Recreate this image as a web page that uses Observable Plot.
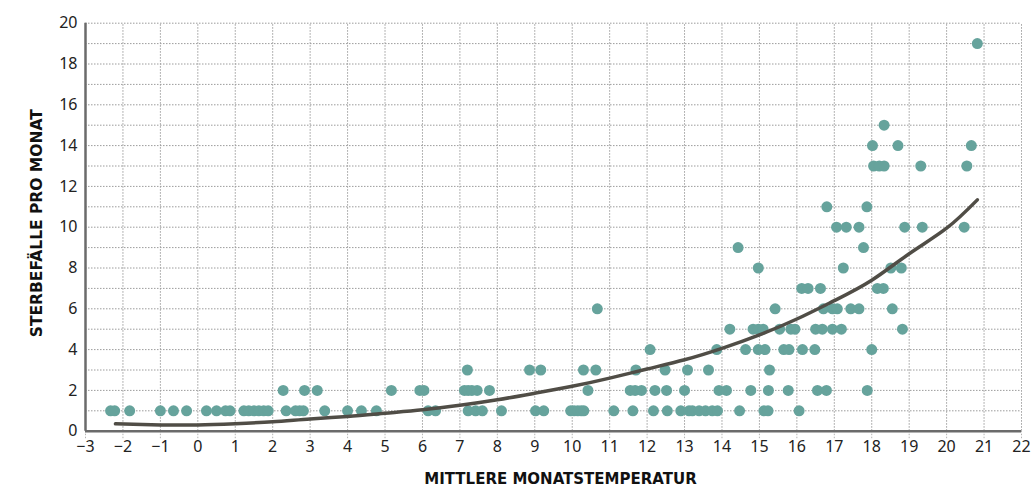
<!DOCTYPE html>
<html>
<head>
<meta charset="utf-8">
<script src="https://cdn.jsdelivr.net/npm/d3@7"></script>
<script src="https://cdn.jsdelivr.net/npm/@observablehq/plot@0.6"></script>
<style>
  html, body { margin: 0; padding: 0; background: #fff; }
  #chart svg { display: block; }
</style>
</head>
<body>
<div id="chart"></div>
<script>
// Monthly deaths vs. mean monthly temperature, grouped by number of deaths
const tempsAt1 = [-2.33, -2.22, -1.82, -1.0, -0.65, -0.30, 0.23, 0.50, 0.74, 0.86, 1.23, 1.36, 1.50, 1.63, 1.76, 1.88,
  2.36, 2.61, 2.72, 2.82, 3.39, 4.0, 4.37, 4.77, 6.15, 6.35, 7.22, 7.42, 7.60, 8.11, 9.02, 9.24, 9.96, 10.05, 10.15,
  10.24, 10.31, 11.11, 11.62, 12.17, 12.54, 12.90, 13.12, 13.21, 13.39, 13.56, 13.74, 13.88, 14.47, 15.12, 15.23, 16.06];
const tempsAt2 = [2.28, 2.85, 3.19, 5.17, 5.93, 6.04, 7.12, 7.22, 7.32, 7.46, 7.79, 10.42, 11.55, 11.68, 11.85, 12.21,
  12.52, 13.0, 13.92, 14.12, 14.77, 15.24, 15.77, 16.55, 16.79, 17.88];
const tempsAt3 = [7.20, 8.86, 9.16, 10.30, 10.63, 11.70, 12.48, 13.08, 13.64, 15.27];
const tempsAt4 = [12.08, 13.86, 14.63, 14.97, 15.15, 15.65, 15.79, 16.15, 16.48, 18.0];
const tempsAt5 = [14.21, 14.83, 14.97, 15.10, 15.54, 15.84, 15.95, 16.50, 16.68, 16.95, 17.19, 18.82];
const tempsAt6 = [10.67, 15.42, 16.71, 16.95, 17.08, 17.44, 17.66, 18.55];
const tempsAt7 = [16.13, 16.30, 16.63, 18.15, 18.31];
const tempsAt8 = [14.97, 17.24, 18.51, 18.79];
const tempsAt9 = [14.43, 17.78];
const tempsAt10 = [17.06, 17.32, 17.66, 18.88, 19.35, 20.47];
const tempsAt11 = [16.80, 17.87];
const tempsAt13 = [18.05, 18.20, 18.33, 19.31, 20.54];
const tempsAt14 = [18.02, 18.70, 20.66];
const tempsAt15 = [18.33];
const tempsAt19 = [20.82];

// Fitted curve
const fitTemp   = [-2.2, -1, 0, 1, 2, 3, 4, 5, 6, 7, 8, 9, 10, 11, 12, 13, 14, 15, 16, 17, 18, 19, 20, 20.82];
const fitDeaths = [0.36, 0.31, 0.31, 0.37, 0.46, 0.6, 0.72, 0.88, 1.05, 1.27, 1.54, 1.86, 2.2, 2.6, 3.05, 3.5, 4.06, 4.72, 5.5, 6.4, 7.4, 8.7, 9.95, 11.34];

const xTicks = d3.range(-3, 23);
const yGrid = d3.range(0, 21);
const yTicks = d3.range(0, 21, 2);
const xTitle = "MITTLERE MONATSTEMPERATUR";
const yTitle = "STERBEFÄLLE PRO MONAT";

const groups = [[1, tempsAt1], [2, tempsAt2], [3, tempsAt3], [4, tempsAt4], [5, tempsAt5], [6, tempsAt6], [7, tempsAt7],
  [8, tempsAt8], [9, tempsAt9], [10, tempsAt10], [11, tempsAt11], [13, tempsAt13], [14, tempsAt14], [15, tempsAt15], [19, tempsAt19]];
const points = groups.flatMap(([n, temps]) => temps.map(t => ({temp: t, deaths: n})));
const fit = fitTemp.map((t, i) => ({temp: t, deaths: fitDeaths[i]}));

const chart = Plot.plot({
  width: 1034,
  height: 490,
  marginTop: 22.7,
  marginBottom: 59.3,
  marginLeft: 85,
  marginRight: 13,
  style: {fontFamily: "'Noto Sans', sans-serif", background: "#fff"},
  x: {domain: [-3, 22]},
  y: {domain: [0, 20]},
  marks: [
    Plot.ruleX(xTicks, {x: d => d, y1: 0, y2: 20, stroke: "#9c9c9c", strokeDasharray: "1.5,1.5", strokeWidth: 1}),
    Plot.ruleY(yGrid, {y: d => d, x1: -3, x2: 22, stroke: "#9c9c9c", strokeDasharray: "1.5,1.5", strokeWidth: 1}),
    Plot.ruleX(xTicks, {x: d => d, y1: 0, y2: -0.4, stroke: "#b5b5b5", strokeDasharray: "1.5,1.5", strokeWidth: 1}),
    Plot.axisX({ticks: xTicks, tickSize: 0, tickPadding: 9, fontSize: 16, fill: "#222", label: null,
      tickFormat: d => d < 0 ? "\u2212" + Math.abs(d) : String(d)}),
    Plot.axisY({ticks: yTicks, tickSize: 0, tickPadding: 8, fontSize: 16, fill: "#222", label: null}),
    Plot.ruleY([0], {stroke: "#6b6b6b", strokeWidth: 2.5}),
    Plot.ruleX([-3], {stroke: "#6b6b6b", strokeWidth: 2.5}),
    Plot.dot(points, {x: "temp", y: "deaths", r: 5.5, fill: "#66a39c", stroke: "none"}),
    Plot.line(fit, {x: "temp", y: "deaths", curve: "natural", stroke: "#504d46", strokeWidth: 3.5, strokeLinecap: "round"}),
    Plot.text([xTitle], {frameAnchor: "bottom", dy: 53, text: d => d, fontSize: 15, fontWeight: "bold",
      fontFamily: "'DejaVu Sans', sans-serif", fill: "#111", dx: 7}),
    Plot.text([yTitle], {frameAnchor: "left", textAnchor: "middle", dx: -48, dy: -4, text: d => d, rotate: -90, fontSize: 15.5, fontWeight: "bold",
      fontFamily: "'DejaVu Sans', sans-serif", fill: "#111"})
  ]
});
document.getElementById("chart").appendChild(chart);
</script>
</body>
</html>
